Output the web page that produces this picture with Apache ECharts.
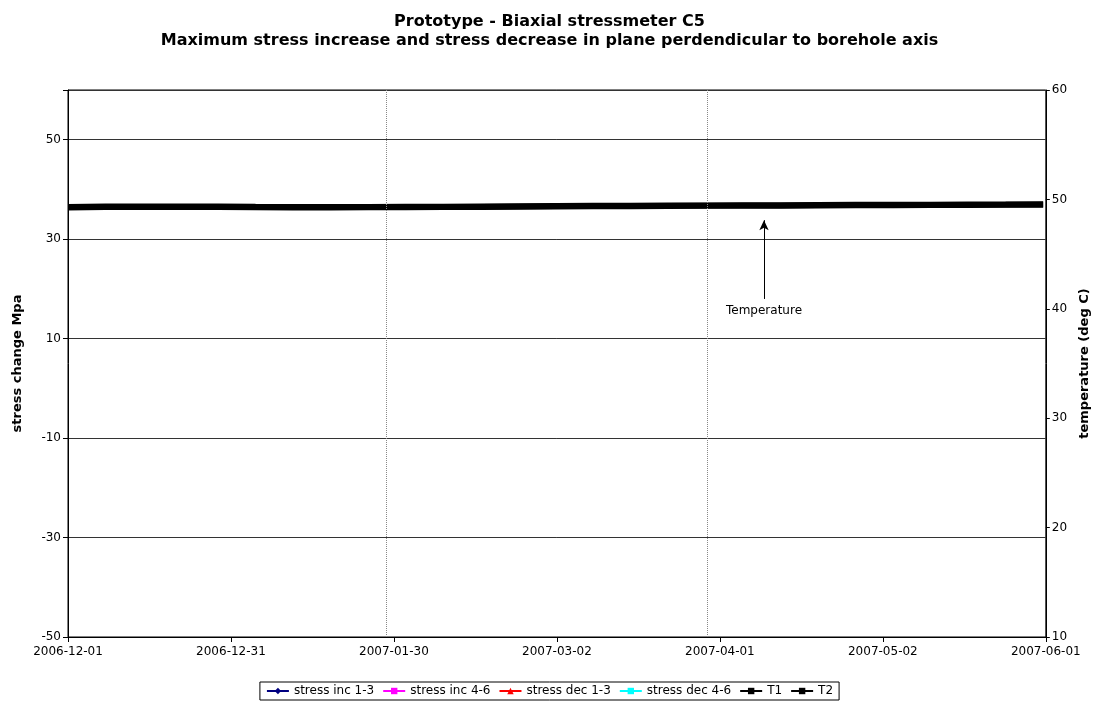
<!DOCTYPE html>
<html>
<head>
<meta charset="utf-8">
<script src="https://cdn.jsdelivr.net/npm/echarts@6/dist/echarts.min.js"></script>
<style>html,body{margin:0;padding:0;background:#fff;}#c{width:1099px;height:702px;}</style>
</head>
<body>
<div id="c"></div>
<script>
// Days since 2006-12-01
var tickLabels = ['2006-12-01','2006-12-31','2007-01-30','2007-03-02','2007-04-01','2007-05-02','2007-06-01'];
var days = [0,7,14,21,28,35,42,49,56,63,70,77,84,91,98,105,112,119,126,133,140,147,154,161,168,175,182];
var t1 = [49.31,49.34,49.36,49.36,49.34,49.32,49.31,49.31,49.31,49.32,49.33,49.35,49.37,49.39,49.41,49.43,49.44,49.45,49.46,49.47,49.49,49.50,49.51,49.52,49.53,49.54,49.55];
var t2 = [49.27,49.30,49.31,49.31,49.30,49.28,49.27,49.27,49.28,49.29,49.30,49.31,49.33,49.35,49.37,49.38,49.40,49.41,49.42,49.43,49.45,49.46,49.47,49.48,49.49,49.50,49.52];
var stressInc13 = [], stressInc46 = [], stressDec13 = [], stressDec46 = [];
var eventDays = [59.4, 119.3];
var arrowDay = 129.9, arrowFrom = 40.9, arrowTo = 48.1;

function pairs(xs, ys){ return xs.map(function(x,i){return [x, ys[i]];}); }
var step = 182.5/6;
var font = 'DejaVu Sans, Liberation Sans, Arial, sans-serif';

var chart = echarts.init(document.getElementById('c'));
chart.setOption({
  animation:false,
  backgroundColor:'#fff',
  title:{
    text:'Prototype - Biaxial stressmeter C5\nMaximum stress increase and stress decrease in plane perdendicular to borehole axis',
    left:'center', top:7,
    textStyle:{fontFamily:font,fontSize:16,fontWeight:'bold',color:'#000',lineHeight:19}
  },
  legend:{
    bottom:2, left:'center',
    itemWidth:22, itemHeight:8, itemGap:8,
    borderColor:'#000', borderWidth:1, padding:[3,6],
    textStyle:{fontFamily:font,fontSize:12,color:'#000'},
    data:['stress inc 1-3','stress inc 4-6','stress dec 1-3','stress dec 4-6','T1','T2']
  },
  grid:{left:68,right:52,top:90,bottom:65,show:true,borderColor:'#000',borderWidth:1,backgroundColor:'#fff'},
  xAxis:{
    type:'value', min:0, max:182.5, interval:step,
    axisLine:{onZero:false,lineStyle:{color:'#000'}},
    axisTick:{show:true,lineStyle:{color:'#000'},length:5},
    splitLine:{show:false},
    axisLabel:{fontFamily:font,fontSize:12,color:'#000',margin:9,showMaxLabel:true,
      formatter:function(v){var i=Math.round(v/step);return tickLabels[i]||'';}}
  },
  yAxis:[{
    type:'value', min:-50, max:60, interval:20, position:'left',
    name:'stress change Mpa', nameLocation:'middle', nameGap:44, nameRotate:90,
    nameTextStyle:{fontFamily:font,fontSize:13,fontWeight:'bold',color:'#000'},
    axisLine:{show:true,onZero:false,lineStyle:{color:'#000'}},
    axisTick:{show:true,lineStyle:{color:'#000'},length:5},
    splitLine:{show:true,lineStyle:{color:'#333',width:1}},
    axisLabel:{fontFamily:font,fontSize:12,color:'#000',margin:7,
      formatter:function(v){return v===60?'':v;}}
  },{
    type:'value', min:10, max:60, interval:10, position:'right',
    name:'temperature (deg C)', nameLocation:'middle', nameGap:30, nameRotate:90,
    nameTextStyle:{fontFamily:font,fontSize:13,fontWeight:'bold',color:'#000'},
    axisLine:{show:true,onZero:false,lineStyle:{color:'#000'}},
    axisTick:{show:true,inside:false,lineStyle:{color:'#000'},length:4},
    splitLine:{show:false},
    axisLabel:{fontFamily:font,fontSize:12,color:'#000',margin:6}
  }],
  series:[
    {name:'stress inc 1-3',type:'line',yAxisIndex:0,data:stressInc13,symbol:'diamond',symbolSize:5,itemStyle:{color:'#000080'},lineStyle:{color:'#000080',width:1}},
    {name:'stress inc 4-6',type:'line',yAxisIndex:0,data:stressInc46,symbol:'rect',symbolSize:5,itemStyle:{color:'#ff00ff'},lineStyle:{color:'#ff00ff',width:1}},
    {name:'stress dec 1-3',type:'line',yAxisIndex:0,data:stressDec13,symbol:'triangle',symbolSize:5,itemStyle:{color:'#ff0000'},lineStyle:{color:'#ff0000',width:1}},
    {name:'stress dec 4-6',type:'line',yAxisIndex:0,data:stressDec46,symbol:'rect',symbolSize:5,itemStyle:{color:'#00ffff'},lineStyle:{color:'#00ffff',width:1}},
    {name:'T1',type:'line',yAxisIndex:1,data:pairs(days,t1),symbol:'rect',symbolSize:4,showSymbol:false,itemStyle:{color:'#000'},lineStyle:{color:'#000',width:6},
      markLine:{silent:true,symbol:['none','none'],label:{show:false},
        lineStyle:{color:'#888',type:'dotted',width:1},
        data:eventDays.map(function(d){return {xAxis:d};})}
    },
    {name:'T2',type:'line',yAxisIndex:1,data:pairs(days,t2),symbol:'rect',symbolSize:4,showSymbol:false,itemStyle:{color:'#000'},lineStyle:{color:'#000',width:6},
      markLine:{silent:true,symbol:['none','arrow'],symbolSize:[7,10],
        lineStyle:{color:'#000',type:'solid',width:1},
        label:{show:true,position:'start',formatter:'Temperature',fontFamily:font,fontSize:12,color:'#000',distance:6},
        data:[[{coord:[arrowDay,arrowFrom]},{coord:[arrowDay,arrowTo]}]]}
    }
  ]
});
</script>
</body>
</html>
